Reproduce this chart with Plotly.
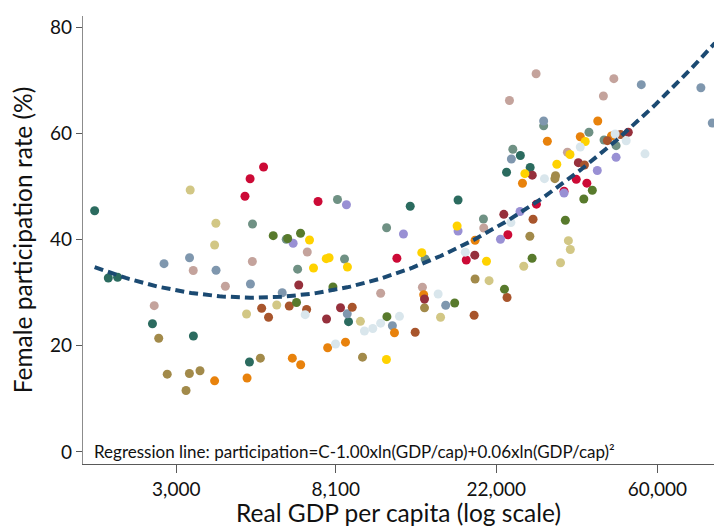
import numpy as np
import plotly.graph_objects as go

# ---- data: natural log of real GDP per capita, and female participation rate (%) ----
teal_lngdp = [7.498, 7.583, 7.641, 7.858, 8.113, 8.462, 9.079, 9.463, 9.761, 10.063, 10.149, 10.210]
teal_part = [45.42, 32.75, 32.89, 24.15, 21.84, 16.94, 24.53, 46.25, 47.44, 52.65, 55.81, 53.55]

sage_lngdp = [8.481, 8.691, 8.762, 9.010, 9.054, 9.316, 9.556, 9.919, 10.102, 10.294, 10.576, 10.670, 10.745]
sage_part = [42.92, 40.04, 34.41, 47.53, 36.33, 42.22, 36.33, 43.86, 56.98, 61.40, 60.18, 58.73, 57.66]

steel_lngdp = [7.930, 8.089, 8.254, 8.468, 8.666, 9.071, 9.352, 9.684, 10.093, 10.294, 10.902, 11.273, 11.344]
steel_part = [35.45, 36.57, 34.22, 31.62, 29.97, 26.01, 23.77, 27.63, 55.15, 62.31, 69.14, 68.56, 61.93]

rosy_lngdp = [7.869, 8.112, 8.312, 8.480, 8.822, 9.279, 9.539, 9.921, 10.081, 10.247, 10.442, 10.666, 10.731]
rosy_part = [27.54, 34.17, 31.19, 35.86, 37.65, 29.89, 31.02, 42.17, 66.17, 71.19, 56.43, 67.01, 70.27]

khaki_lngdp = [8.093, 8.253, 8.245, 8.444, 8.632, 9.153, 9.652, 9.954, 10.170, 10.399, 10.448, 10.460]
khaki_part = [49.32, 43.05, 38.97, 25.98, 27.67, 24.60, 25.37, 32.25, 34.96, 35.62, 39.78, 38.12]

olive_lngdp = [7.897, 7.950, 8.088, 8.154, 8.067, 8.530, 9.166, 9.552, 9.867, 10.208, 10.368, 10.364]
olive_part = [21.42, 14.65, 14.78, 15.29, 11.58, 17.66, 17.85, 27.14, 32.57, 40.62, 51.99, 51.45]

orange_lngdp = [8.245, 8.447, 8.729, 8.781, 8.949, 9.060, 9.365, 9.547, 9.867, 10.162, 10.317, 10.522, 10.631, 10.716]
orange_part = [13.40, 13.93, 17.66, 16.43, 19.63, 20.67, 22.44, 29.59, 39.85, 50.58, 58.49, 59.35, 62.31, 59.48]

red_lngdp = [8.434, 8.466, 8.550, 8.889, 9.380, 9.812, 10.071, 10.249, 10.421, 10.497, 10.563]
red_part = [48.13, 51.43, 53.65, 47.15, 36.46, 36.14, 40.90, 46.65, 49.09, 51.33, 50.60]

darkred_lngdp = [8.769, 8.942, 9.029, 9.552, 9.865, 10.046, 10.223, 10.510, 10.821]
darkred_part = [31.44, 25.04, 27.16, 28.80, 37.05, 44.74, 52.11, 54.46, 60.18]

rust_lngdp = [8.538, 8.581, 8.710, 8.818, 9.102, 9.494, 9.861, 10.066, 10.228, 10.548, 10.691, 10.773]
rust_part = [27.05, 25.36, 27.48, 26.82, 27.24, 22.55, 25.73, 29.08, 43.82, 54.02, 58.60, 59.77]

lavender_lngdp = [8.734, 9.066, 9.421, 9.761, 10.025, 10.147, 10.421, 10.628, 10.745]
lavender_part = [39.29, 46.53, 41.04, 41.60, 40.04, 45.27, 48.75, 52.99, 55.47]

yellow_lngdp = [8.836, 8.861, 8.940, 8.958, 9.072, 9.315, 9.535, 9.755, 9.938, 10.177, 10.376, 10.458, 10.553]
yellow_part = [39.91, 34.64, 36.39, 36.57, 34.82, 17.41, 37.52, 42.54, 35.90, 52.39, 54.16, 56.00, 58.45]

light_lngdp = [8.809, 8.998, 9.178, 9.230, 9.279, 9.396, 9.637, 9.806, 10.090, 10.299, 10.522, 10.739, 10.808, 10.925]
light_part = [25.85, 20.33, 22.78, 23.25, 24.25, 25.54, 29.74, 37.61, 43.20, 51.45, 57.41, 59.86, 58.58, 56.13]

green_lngdp = [8.610, 8.780, 8.700, 8.755, 8.982, 9.318, 9.740, 10.050, 10.222, 10.429, 10.544, 10.597]
green_part = [40.72, 41.17, 40.19, 28.14, 31.06, 25.47, 28.05, 30.65, 36.48, 43.62, 47.63, 49.26]

# regression: participation = a + b*ln(GDP) + c*ln(GDP)^2
reg_a, reg_b, reg_c = 448.8, -98.87, 5.822

tick_vals = [3000, 8100, 22000, 60000]
tick_text = ["3,000", "8,100", "22,000", "60,000"]
y_ticks = [0, 20, 40, 60, 80]

groups = [
    (teal_lngdp, teal_part, "#2b6b5f"),
    (sage_lngdp, sage_part, "#6f9184"),
    (steel_lngdp, steel_part, "#7f97ae"),
    (rosy_lngdp, rosy_part, "#c4a39c"),
    (khaki_lngdp, khaki_part, "#d2c785"),
    (olive_lngdp, olive_part, "#a28a4a"),
    (orange_lngdp, orange_part, "#e8820c"),
    (red_lngdp, red_part, "#cc0a36"),
    (darkred_lngdp, darkred_part, "#96303c"),
    (rust_lngdp, rust_part, "#a8552c"),
    (lavender_lngdp, lavender_part, "#9990d4"),
    (yellow_lngdp, yellow_part, "#ffd200"),
    (light_lngdp, light_part, "#d9e6ec"),
    (green_lngdp, green_part, "#587a2c"),
]

FONT = "Lato"
fig = go.Figure()
for lx, py, col in groups:
    fig.add_trace(go.Scatter(
        x=np.exp(np.array(lx)), y=py, mode="markers",
        marker=dict(color=col, size=9, line=dict(width=0)),
        showlegend=False, hoverinfo="skip"))

all_l = np.concatenate([np.array(g[0]) for g in groups])
xl = np.linspace(all_l.min(), 11.36, 200)
yl = reg_a + reg_b * xl + reg_c * xl ** 2
fig.add_trace(go.Scatter(x=np.exp(xl), y=yl, mode="lines",
                         line=dict(color="#1b4a72", width=4, dash="9px,5px"),
                         showlegend=False, hoverinfo="skip"))

x_lo, x_hi = 7.4255, 11.3547
fig.update_layout(
    width=714, height=527,
    margin=dict(l=83, r=0, t=16, b=63),
    paper_bgcolor="white", plot_bgcolor="white",
    font=dict(family=FONT, color="#111111"),
    xaxis=dict(type="log", range=[x_lo / np.log(10), x_hi / np.log(10)],
               tickvals=tick_vals, ticktext=tick_text,
               showgrid=False, zeroline=False, showline=True, linecolor="#595959", linewidth=1.3,
               ticks="outside", ticklen=8, tickcolor="#595959",
               tickfont=dict(size=19, family=FONT, color="#111111"),
               title=dict(text="Real GDP per capita (log scale)", font=dict(size=24.5, family=FONT, color="#111111"),
                          standoff=3)),
    yaxis=dict(range=[-2.26, 82.07], tickvals=y_ticks,
               showgrid=False, zeroline=False, showline=True, linecolor="#8c8c8c", linewidth=1.3,
               ticks="outside", ticklen=6, tickcolor="#595959",
               tickfont=dict(size=19, family=FONT, color="#111111"),
               title=dict(text="Female participation rate (%)", font=dict(size=24.5, family=FONT, color="#111111"),
                          standoff=10)),
)
fig.add_annotation(text="Regression line: participation=C-1.00xln(GDP/cap)+0.06xln(GDP/cap)²",
                   xref="paper", yref="y", x=0.015, y=0, xanchor="left", yanchor="middle",
                   showarrow=False, font=dict(size=17, family=FONT, color="#111111"))
fig.write_html("out.html")
